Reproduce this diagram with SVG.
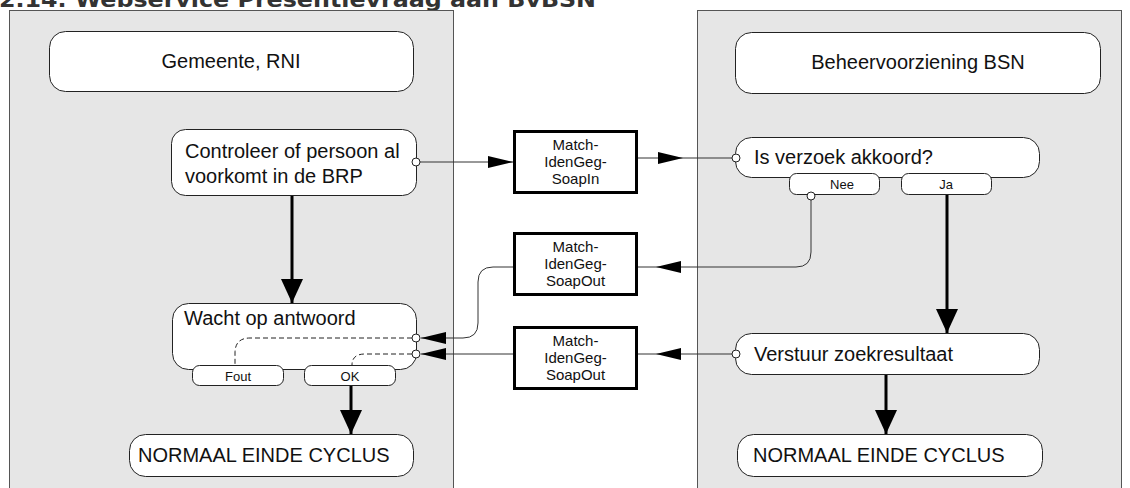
<svg xmlns="http://www.w3.org/2000/svg" width="1130" height="488" viewBox="0 0 1130 488">
<defs>
<style>
.lane{fill:#e6e6e6;stroke:#555;stroke-width:1}
.node{fill:#fff;stroke:#222;stroke-width:1}
.msg{fill:#fff;stroke:#000;stroke-width:3}
.port{fill:#fff;stroke:#222;stroke-width:1}
.t{font-family:"Liberation Sans",Arial,sans-serif;font-size:20px;fill:#111}
.tc{font-family:"Liberation Sans",Arial,sans-serif;font-size:20px;fill:#111;text-anchor:middle}
.ts{font-family:"Liberation Sans",Arial,sans-serif;font-size:13px;fill:#111;text-anchor:middle}
.tm{font-family:"Liberation Sans",Arial,sans-serif;font-size:15px;fill:#111;text-anchor:middle}
.thin{fill:none;stroke:#333;stroke-width:1}
.thick{fill:none;stroke:#000;stroke-width:3}
.dash{fill:none;stroke:#222;stroke-width:1;stroke-dasharray:5,3}
.title{font-family:"DejaVu Sans",Verdana,sans-serif;font-weight:bold;font-size:21px;fill:#333}
</style>
<marker id="ah" markerUnits="userSpaceOnUse" markerWidth="26" markerHeight="14" refX="25" refY="6" orient="auto" viewBox="0 0 26 14">
<path d="M0,0 L25,6 L0,12 z" fill="#000"/>
</marker>
<marker id="ahb" markerUnits="userSpaceOnUse" markerWidth="26" markerHeight="24" refX="24" refY="11" orient="auto" viewBox="0 0 26 24">
<path d="M0,0 L24,11 L0,22 z" fill="#000"/>
</marker>
</defs>

<text class="title" x="-1" y="7" textLength="597" lengthAdjust="spacingAndGlyphs">2.14. Webservice Presentievraag aan BvBSN</text>

<g id="lane-gemeente">
<rect class="lane" x="9.5" y="10.5" width="444" height="490"/>
</g>
<g id="lane-bvbsn">
<rect class="lane" x="697.5" y="10.5" width="424" height="490"/>
</g>

<g id="hdr-gemeente">
<rect class="node" x="49.5" y="31.5" width="364" height="60" rx="16"/>
<text class="tc" x="231" y="68">Gemeente, RNI</text>
</g>
<g id="hdr-bvbsn">
<rect class="node" x="735.5" y="32.5" width="365" height="61" rx="16"/>
<text class="tc" x="918" y="69">Beheervoorziening BSN</text>
</g>

<g id="connectors">
<path class="thin" d="M420,162 H513" marker-end="url(#ah)"/>
<path class="thin" d="M637,158 H683" marker-end="url(#ah)"/>
<path class="thin" d="M683,158 H732"/>
<path class="thin" d="M811,200 V252 Q811,267 796,267 H656" marker-end="url(#ah)"/>
<path class="thin" d="M656,267 H637"/>
<path class="thin" d="M732,354 H656" marker-end="url(#ah)"/>
<path class="thin" d="M656,354 H637"/>
<path class="thin" d="M514,267 H493 Q478,267 478,282 V323 Q478,338 463,338 H421" marker-end="url(#ah)"/>
<path class="thin" d="M514,354 H421" marker-end="url(#ah)"/>
<path class="thick" d="M292,195 V303" marker-end="url(#ahb)"/>
<path class="thick" d="M947,194 V333" marker-end="url(#ahb)"/>
<path class="thick" d="M351,385 V434" marker-end="url(#ahb)"/>
<path class="thick" d="M886,374 V434" marker-end="url(#ahb)"/>
</g>

<g id="controleer">
<rect class="node" x="171.5" y="129.5" width="245" height="66" rx="14"/>
<text class="t" x="185" y="158">Controleer of persoon al</text>
<text class="t" x="185" y="183">voorkomt in de BRP</text>
<circle class="port" cx="416" cy="162" r="4"/>
</g>

<g id="wacht">
<rect class="node" x="172.5" y="303.5" width="244" height="66" rx="16"/>
<text class="t" x="184" y="325">Wacht op antwoord</text>
<path class="dash" d="M412,338 H250 Q235,338 235,353 V365"/>
<path class="dash" d="M412,354 H365 Q352,354 352,365"/>
<rect class="node" x="192.5" y="365.5" width="91" height="20" rx="7"/>
<text class="ts" x="238" y="381">Fout</text>
<rect class="node" x="304.5" y="365.5" width="91" height="20" rx="7"/>
<text class="ts" x="350" y="381">OK</text>
<circle class="port" cx="416" cy="338" r="4"/>
<circle class="port" cx="416" cy="354" r="4"/>
</g>

<g id="einde-links">
<rect class="node" x="129.5" y="434.5" width="284" height="42" rx="16"/>
<text class="t" x="138" y="462">NORMAAL EINDE CYCLUS</text>
</g>

<g id="msg-in">
<rect class="msg" x="514.5" y="131.5" width="122" height="61"/>
<text class="tm" x="575.5" y="150">Match-</text>
<text class="tm" x="575.5" y="167">IdenGeg-</text>
<text class="tm" x="575.5" y="184">SoapIn</text>
</g>
<g id="msg-out1">
<rect class="msg" x="514.5" y="233.5" width="122" height="61"/>
<text class="tm" x="575.5" y="252">Match-</text>
<text class="tm" x="575.5" y="269">IdenGeg-</text>
<text class="tm" x="575.5" y="286">SoapOut</text>
</g>
<g id="msg-out2">
<rect class="msg" x="514.5" y="327.5" width="122" height="61"/>
<text class="tm" x="575.5" y="346">Match-</text>
<text class="tm" x="575.5" y="363">IdenGeg-</text>
<text class="tm" x="575.5" y="380">SoapOut</text>
</g>

<g id="verzoek">
<rect class="node" x="735.5" y="137.5" width="304" height="40" rx="16"/>
<text class="t" x="754" y="164">Is verzoek akkoord?</text>
<rect class="node" x="789.5" y="173.5" width="90" height="21" rx="7"/>
<text class="ts" x="842" y="189">Nee</text>
<rect class="node" x="901.5" y="173.5" width="90" height="21" rx="7"/>
<text class="ts" x="946" y="189">Ja</text>
<circle class="port" cx="736" cy="158" r="4"/>
<circle class="port" cx="811" cy="196" r="4"/>
</g>

<g id="verstuur">
<rect class="node" x="735.5" y="333.5" width="304" height="41" rx="16"/>
<text class="t" x="754" y="361">Verstuur zoekresultaat</text>
<circle class="port" cx="736" cy="354" r="4"/>
</g>

<g id="einde-rechts">
<rect class="node" x="737.5" y="434.5" width="305" height="42" rx="16"/>
<text class="t" x="753" y="462">NORMAAL EINDE CYCLUS</text>
</g>
</svg>
